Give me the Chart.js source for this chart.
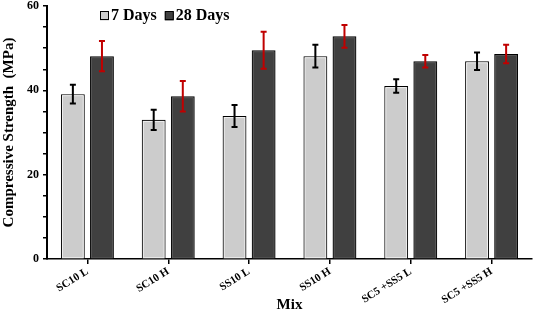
<!DOCTYPE html>
<html>
<head>
<meta charset="utf-8">
<script src="https://cdn.jsdelivr.net/npm/chart.js@4"></script>
<style>
  html, body { margin: 0; padding: 0; background: #fff; }
  #wrap { width: 536px; height: 315px; position: relative; }
</style>
</head>
<body>
<div id="wrap"><canvas id="strengthChart" width="536" height="315"></canvas></div>
<script>
/* ================================
   Data
================================ */
const mixes = ["SC10 L", "SC10 H", "SS10 L", "SS10 H", "SC5 +SS5 L", "SC5 +SS5 H"];
const days7 = [39.1, 33.0, 33.9, 48.1, 41.0, 46.9];
const days7Err = [2.2, 2.4, 2.6, 2.7, 1.6, 2.1];
const days28 = [48.1, 38.6, 49.5, 52.8, 46.9, 48.6];
const days28Err = [3.6, 3.6, 4.4, 2.7, 1.5, 2.2];
const seriesLabels = ["7 Days", "28 Days"];
const yTicks = [0, 20, 40, 60];

const serif = "'Liberation Serif', 'Times New Roman', serif";

/* ================================
   Bar inner highlight + error bars
================================ */
const barDecor = {
  id: "barDecor",
  afterDatasetsDraw(chart) {
    const { ctx } = chart;
    const y = chart.scales.y;

    // thin inner line, like the beveled look of the original
    chart.data.datasets.forEach((ds, i) => {
      const meta = chart.getDatasetMeta(i);
      ctx.save();
      ctx.strokeStyle = ds.innerColor;
      ctx.lineWidth = 1;
      meta.data.forEach(bar => {
        const half = bar.width / 2;
        ctx.strokeRect(bar.x - half + 1.5, bar.y + 1.5, bar.width - 3, bar.base - bar.y - 2);
      });
      ctx.restore();
    });

    chart.data.datasets.forEach((ds, i) => {
      const meta = chart.getDatasetMeta(i);
      ctx.save();
      ctx.strokeStyle = ds.errColor;
      ctx.lineWidth = 2;
      meta.data.forEach((bar, j) => {
        const v = ds.data[j], e = ds.err[j];
        const top = y.getPixelForValue(v + e);
        const bot = y.getPixelForValue(v - e);
        ctx.beginPath();
        ctx.moveTo(bar.x, top);
        ctx.lineTo(bar.x, bot);
        ctx.moveTo(bar.x - 3, top);
        ctx.lineTo(bar.x + 3, top);
        ctx.moveTo(bar.x - 3, bot);
        ctx.lineTo(bar.x + 3, bot);
        ctx.stroke();
      });
      ctx.restore();
    });
  }
};

/* ================================
   Legend (inside plot)
================================ */
const innerLegend = {
  id: "innerLegend",
  afterDraw(chart) {
    const { ctx } = chart;
    let x = 100;
    const yc = 16;
    ctx.save();
    ctx.font = "bold 16px " + serif;
    ctx.textBaseline = "middle";
    chart.data.datasets.forEach(ds => {
      ctx.fillStyle = ds.backgroundColor;
      ctx.strokeStyle = "#000";
      ctx.lineWidth = 1;
      ctx.fillRect(x, yc - 4.5, 9, 9);
      ctx.strokeRect(x + 0.5, yc - 4.5, 8, 8);
      ctx.fillStyle = "#000";
      ctx.fillText(ds.label, x + 11, yc);
      x += 11 + ctx.measureText(ds.label).width + 8;
    });
    ctx.restore();
  }
};

/* ================================
   Chart
================================ */
new Chart(document.getElementById("strengthChart"), {
  type: "bar",
  data: {
    labels: mixes,
    datasets: [
      {
        label: seriesLabels[0], data: days7, err: days7Err, errColor: "#000", innerColor: "#f2f2f2",
        backgroundColor: "#cccccc", borderColor: "#000", borderWidth: 1.5,
        categoryPercentage: 0.72, barPercentage: 0.82
      },
      {
        label: seriesLabels[1], data: days28, err: days28Err, errColor: "#c00000", innerColor: "#555555",
        backgroundColor: "#404040", borderColor: "#000", borderWidth: 1.5,
        categoryPercentage: 0.72, barPercentage: 0.82
      }
    ]
  },
  options: {
    responsive: false,
    animation: false,
    layout: { padding: { top: 6, right: 4 } },
    plugins: { legend: { display: false }, tooltip: { enabled: false } },
    scales: {
      x: {
        afterFit: s => { s.height = 56; },
        border: { color: "#000", width: 1.5 },
        grid: { display: true, drawOnChartArea: false, offset: false, tickLength: 5, color: "#000", lineWidth: 1.5 },
        ticks: {
          color: "#000", font: { family: serif, weight: "bold", size: 11 },
          minRotation: 32, maxRotation: 32, padding: 1, autoSkip: false
        },
        title: {
          display: true, text: "Mix", color: "#000",
          font: { family: serif, weight: "bold", size: 15 }, padding: { top: 0, bottom: 1 }
        }
      },
      y: {
        min: 0, max: 60,
        afterFit: s => { s.width = 47; s.paddingTop = 0; s.paddingBottom = 0; },
        afterBuildTicks: s => {
          const out = [];
          for (let v = 0; v <= 60; v += 5) out.push({ value: v });
          s.ticks = out;
        },
        border: { color: "#000", width: 2 },
        grid: { display: true, drawOnChartArea: false, tickLength: 4, color: "#000", lineWidth: 1.5 },
        ticks: {
          color: "#000", font: { family: serif, weight: "bold", size: 12 }, padding: 4, autoSkip: false,
          callback: v => (yTicks.includes(v) ? v : "")
        },
        title: {
          display: true, text: "Compressive Strength  (MPa)", color: "#000",
          font: { family: serif, weight: "bold", size: 15 }, padding: { top: 0, bottom: 0 }
        }
      }
    }
  },
  plugins: [barDecor, innerLegend]
});
</script>
</body>
</html>
